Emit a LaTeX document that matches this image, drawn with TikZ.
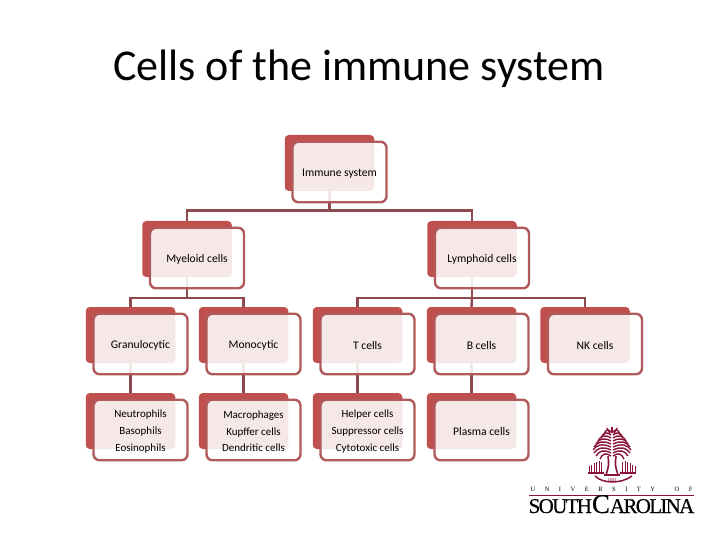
\documentclass[tikz,border=0pt]{standalone}
\usepackage{fontspec}
\setmainfont{Carlito}
\newfontfamily\logofont{Liberation Serif}
\usetikzlibrary{backgrounds,calc}
\pgfdeclarelayer{backlayer}
\pgfdeclarelayer{connlayer}
\pgfdeclarelayer{frontlayer}
\pgfsetlayers{backlayer,connlayer,frontlayer,main}
\definecolor{backred}{HTML}{C0504D}
\definecolor{edgered}{HTML}{B05A5C}
\definecolor{connred}{HTML}{8F4A4E}
\definecolor{garnet}{HTML}{8A1538}
\tikzset{
  backbox/.style={fill=backred,draw=none,rounded corners=4pt,minimum width=89.5pt,minimum height=56pt,inner sep=0pt},
  frontbox/.style={fill=white,fill opacity=.87,draw=edgered,draw opacity=1,line width=2.4pt,rounded corners=6pt,
     minimum width=94pt,minimum height=60.5pt,inner sep=0pt},
  celltext/.style={inner sep=0pt,align=center,yshift=-1.5pt,font=\fontsize{11.6}{16.6}\selectfont},
  smalltext/.style={celltext,font=\fontsize{11}{16.6}\selectfont},
  conn/.style={draw=connred,line width=2.4pt},
  frond/.style={draw=garnet,line width=1.4pt},
  logobit/.style={draw=garnet,line width=.9pt},
}
\newcommand{\cellpair}[5]{% name, back cx, back cy, text, text style
  \begin{pgfonlayer}{backlayer}\node[backbox] (b#1) at (#2,#3) {};\end{pgfonlayer}
  \begin{pgfonlayer}{frontlayer}\node[frontbox] (f#1) at (#2+10,#3+9) {};\end{pgfonlayer}
  \node[#5] (t#1) at (f#1.center) {#4};
}
\begin{document}
\begin{tikzpicture}[x=1pt,y=-1pt]
\useasboundingbox (0,0) rectangle (720,540);
\node[font=\fontsize{44}{48}\selectfont,anchor=center] (title) at (359,69) {Cells of the immune system};
\cellpair{imm}{329.5}{163}{Immune system}{celltext}
\cellpair{mye}{187}{249}{Myeloid cells}{celltext}
\cellpair{lym}{472}{249}{Lymphoid cells}{celltext}
\cellpair{gra}{130.5}{335}{Granulocytic}{celltext}
\cellpair{mon}{243.5}{335}{Monocytic}{celltext}
\cellpair{tce}{357.5}{335}{T cells}{celltext}
\cellpair{bce}{471.5}{335}{B cells}{celltext}
\cellpair{nkc}{585}{335}{NK cells}{celltext}
\cellpair{neu}{130.5}{421}{Neutrophils\\Basophils\\Eosinophils}{smalltext}
\cellpair{mac}{243.5}{421}{Macrophages\\Kupffer cells\\Dendritic cells}{smalltext}
\cellpair{hel}{357.5}{421}{Helper cells\\Suppressor cells\\Cytotoxic cells}{smalltext}
\cellpair{pla}{471.5}{421}{Plasma cells}{celltext}
\coordinate (busa) at (329.5,210.5);
\coordinate (busb) at (187,298);
\coordinate (busc) at (472,298);
\begin{pgfonlayer}{connlayer}
\draw[conn] (bimm.south) -- (busa);
\draw[conn] (bmye.north) |- (busa) -| (blym.north);
\draw[conn] (bmye.south) -- (busb);
\draw[conn] (bgra.north) |- (busb) -| (bmon.north);
\draw[conn] (blym.south) -- (busc);
\draw[conn] (btce.north) |- (busc) -| (bnkc.north);
\draw[conn] (bbce.north) -- (busc);
\draw[conn] (bgra.south) -- (bneu.north);
\draw[conn] (bmon.south) -- (bmac.north);
\draw[conn] (btce.south) -- (bhel.north);
\draw[conn] (bbce.south) -- (bpla.north);
\end{pgfonlayer}
% logo palm: stacked drooping fronds
\foreach \y/\w in {432/7,435/10,438/13,441/15,444/17,447/18,450/17,453/15,456/11}{
  \draw[frond] (611,\y) .. controls ({611-\w*0.5},{\y-4}) and ({611-\w*0.8},{\y-2}) .. ({611-\w},{\y+3});
  \draw[frond] (613,\y) .. controls ({613+\w*0.5},{\y-4}) and ({613+\w*0.8},{\y-2}) .. ({613+\w},{\y+3});
}
\draw[frond,line width=1.2pt] (612,427) -- (612,433);
\draw[frond,line width=1.2pt] (607,428) -- (610,434) (617,428) -- (614,434);
% trunks
\draw[logobit,line width=1.6pt] (608,456) .. controls (609,465) .. (606,475);
\draw[logobit,line width=1.6pt] (616,456) .. controls (615,465) .. (618,475);
% fences
\foreach \x/\h in {589/7,591.5/8,594/10,596.5/11,599/12,601.5/11,622.5/11,625/12,627.5/11,630/10,632.5/8,635/7}{
  \draw[logobit] (\x,473) -- (\x,473-\h);
}
\draw[logobit,line width=1.2pt] (588,473) -- (604,473) (620,473) -- (636,473);
\draw[logobit,line width=1.5pt] (595,476) .. controls (603,484) and (621,484) .. (632,476);
\draw[logobit,line width=1.2pt] (604,475) -- (620,475);
\node[font=\fontsize{4.5}{5}\selectfont,text=garnet,inner sep=0pt] (yr) at (612,479.5) {1801};
\node[font=\logofont\fontsize{6.5}{7}\selectfont,inner sep=0pt] (univ) at (611.5,489.5)
  {U\hspace{9.5pt}N\hspace{9.5pt}I\hspace{9.5pt}V\hspace{9.5pt}E\hspace{9.5pt}R\hspace{9.5pt}S\hspace{9.5pt}I\hspace{9.5pt}T\hspace{9.5pt}Y\hspace{19.5pt}O\hspace{9.5pt}F};
\draw[draw=garnet,line width=.7pt] (529,495.5) -- (694,495.5);
\node[font=\logofont\fontsize{21}{21}\selectfont,inner sep=0pt,anchor=base] (sc) at (611.5,513)
  {\addfontfeature{LetterSpace=-8,FakeBold=0.5}SOUTH{\fontsize{27}{27}\selectfont C}AROLINA};
\end{tikzpicture}
\end{document}
